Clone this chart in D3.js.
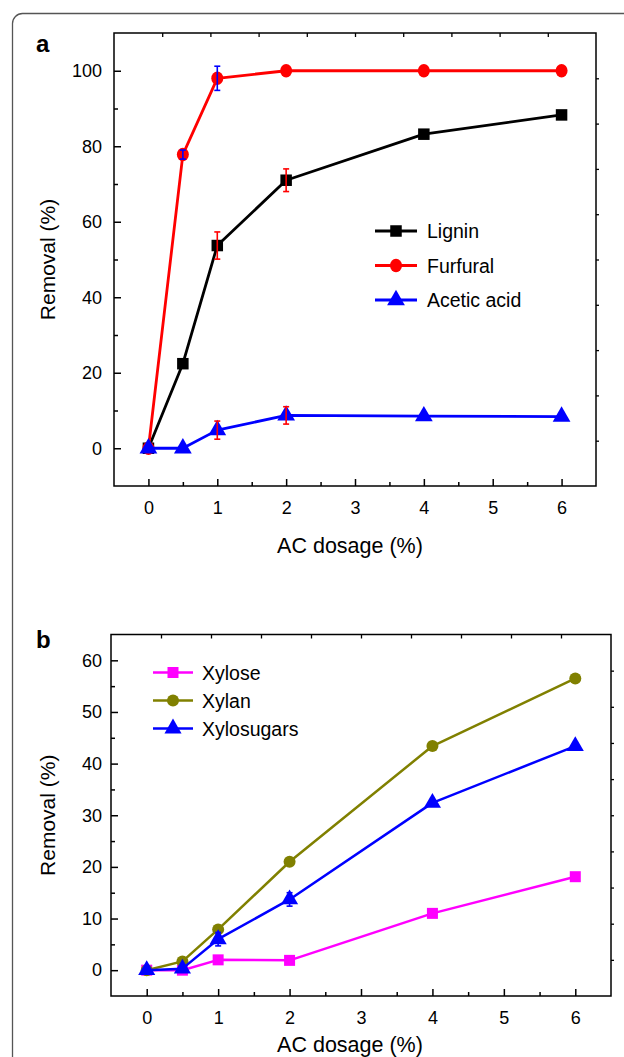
<!DOCTYPE html>
<html>
<head>
<meta charset="utf-8">
<script src="https://cdn.jsdelivr.net/npm/d3@7"></script>
<style>
  html, body { margin: 0; padding: 0; background: #fff; }
  svg { display: block; font-family: "Liberation Sans", Arial, sans-serif; }
</style>
</head>
<body>
<svg id="chart" width="624" height="1057"></svg>
<script>
// ---------- data ----------
const dosage = [0, 0.5, 1, 2, 4, 6];
const xTickLabels = [0, 1, 2, 3, 4, 5, 6];

// panel a
const lignin = [0, 22.4, 53.7, 71.0, 83.2, 88.3];
const ligninErr = [0, 0, 3.6, 3.0, 0, 0];
const furfural = [0, 77.8, 98.0, 100, 100, 100];
const furfuralErr = [0, 1.2, 3.2, 0, 0, 0];
const aceticAcid = [0, 0, 4.8, 8.7, 8.5, 8.4];
const aceticAcidErr = [0, 0, 2.4, 2.3, 0, 0];
const yTicksA = [0, 20, 40, 60, 80, 100];

// panel b
const xylose = [0, 0, 2.0, 1.9, 11.0, 18.1];
const xylan = [0, 1.7, 7.9, 21.0, 43.4, 56.5];
const xylosugars = [0, 0.3, 6.0, 13.7, 32.4, 43.4];
const xylosugarsErr = [0, 0, 1.3, 1.3, 0, 0];
const yTicksB = [0, 10, 20, 30, 40, 50, 60];

// ---------- drawing ----------
const svg = d3.select("#chart");
const FONT = "'Liberation Sans', Arial, sans-serif";

// outer rounded frame
svg.append("rect")
  .attr("x", 12.5).attr("y", 13.5)
  .attr("width", 700).attr("height", 1100)
  .attr("rx", 10).attr("ry", 10)
  .attr("fill", "none").attr("stroke", "#555").attr("stroke-width", 1.3);

function drawMarker(sel, s, cx, cy) {
  if (s.shape === "square") {
    sel.append("rect").attr("x", cx - s.size / 2).attr("y", cy - s.size / 2)
      .attr("width", s.size).attr("height", s.size).attr("fill", s.color);
  } else if (s.shape === "circle") {
    sel.append("ellipse").attr("cx", cx).attr("cy", cy)
      .attr("rx", s.size / 2).attr("ry", s.size / 2 * (s.stretch || 1)).attr("fill", s.color);
  } else {
    sel.append("path").attr("transform", `translate(${cx},${cy})`)
      .attr("d", d3.symbol().type(d3.symbolTriangle).size(s.size * s.size * 0.75)())
      .attr("fill", s.color);
  }
}

function panel(cfg) {
  const g = svg.append("g");
  const x = d3.scaleLinear().domain([-0.5, 6.5]).range([cfg.left, cfg.right]);
  const y = d3.scaleLinear().domain(cfg.yDomain).range([cfg.bottom, cfg.top]);

  // series
  cfg.series.forEach(s => {
    const pts = dosage.map((d, i) => ({ x: d, y: s.values[i] }));
    g.append("path")
      .datum(pts)
      .attr("fill", "none")
      .attr("stroke", s.color)
      .attr("stroke-width", cfg.lineWidth)
      .attr("stroke-linejoin", "round")
      .attr("d", d3.line().x(p => x(p.x)).y(p => y(p.y)));
    const mk = g.append("g");
    pts.forEach(p => drawMarker(mk, s, x(p.x), y(p.y)));
  });
  // error bars on top
  cfg.series.forEach(s => {
    if (!s.err) return;
    dosage.forEach((d, i) => {
      const e = s.err[i];
      if (!e) return;
      const cx = x(d), y1 = y(s.values[i] + e), y2 = y(s.values[i] - e);
      const eg = g.append("g").attr("stroke", s.errColor).attr("stroke-width", 1.6);
      eg.append("line").attr("x1", cx).attr("x2", cx).attr("y1", y1).attr("y2", y2);
      eg.append("line").attr("x1", cx - 3).attr("x2", cx + 3).attr("y1", y1).attr("y2", y1);
      eg.append("line").attr("x1", cx - 3).attr("x2", cx + 3).attr("y1", y2).attr("y2", y2);
    });
  });

  // frame
  g.append("rect")
    .attr("x", cfg.left).attr("y", cfg.top)
    .attr("width", cfg.right - cfg.left).attr("height", cfg.bottom - cfg.top)
    .attr("fill", "none").attr("stroke", "#000").attr("stroke-width", 1.5);

  // bottom axis (inward ticks)
  const xMinor = [0.5, 1.5, 2.5, 3.5, 4.5, 5.5];
  const bx = g.append("g").attr("transform", `translate(0,${cfg.bottom})`)
    .call(d3.axisBottom(x).tickValues(xTickLabels).tickSize(-7).tickPadding(15).tickFormat(d3.format("d")));
  bx.select(".domain").remove();
  bx.selectAll("line").attr("stroke-width", 1.5);
  bx.selectAll("text").attr("font-size", 18).attr("font-family", FONT).attr("fill", "#000");
  const bxm = g.append("g").attr("transform", `translate(0,${cfg.bottom})`)
    .call(d3.axisBottom(x).tickValues(xMinor).tickSize(-4).tickFormat(""));
  bxm.select(".domain").remove();
  bxm.selectAll("line").attr("stroke-width", 1.5);

  // left axis (inward ticks)
  const ly = g.append("g").attr("transform", `translate(${cfg.left},0)`)
    .call(d3.axisLeft(y).tickValues(cfg.yTicks).tickSize(-7).tickPadding(cfg.yPad).tickFormat(d3.format("d")));
  ly.select(".domain").remove();
  ly.selectAll("line").attr("stroke-width", 1.5);
  ly.selectAll("text").attr("font-size", 18).attr("font-family", FONT).attr("fill", "#000");
  const lym = g.append("g").attr("transform", `translate(${cfg.left},0)`)
    .call(d3.axisLeft(y).tickValues(cfg.yMinor).tickSize(-4).tickFormat(""));
  lym.select(".domain").remove();
  lym.selectAll("line").attr("stroke-width", 1.5);

  // top ticks (10 equal divisions, inward) and right ticks (outward)
  const topS = d3.scaleLinear().domain([0, 10]).range([cfg.left, cfg.right]);
  const tAx = g.append("g").attr("transform", `translate(0,${cfg.top})`)
    .call(d3.axisTop(topS).tickValues(d3.range(1, 10)).tickSize(-4).tickFormat(""));
  tAx.select(".domain").remove();
  tAx.selectAll("line").attr("stroke-width", 1.3);
  const rightS = d3.scaleLinear().domain([0, 10]).range([cfg.bottom, cfg.top]);
  const rAx = g.append("g").attr("transform", `translate(${cfg.right},0)`)
    .call(d3.axisRight(rightS).tickValues(d3.range(1, 10)).tickSize(3).tickFormat(""));
  rAx.select(".domain").remove();
  rAx.selectAll("line").attr("stroke-width", 1.3);

  // axis titles
  g.append("text")
    .attr("x", 350).attr("y", cfg.bottom + cfg.xTitleOffset)
    .attr("text-anchor", "middle").attr("font-size", 21.5).attr("font-family", FONT).attr("fill", "#000")
    .text("AC dosage (%)");
  g.append("text")
    .attr("transform", `translate(55,${(cfg.top + cfg.bottom) / 2}) rotate(-90)`)
    .attr("text-anchor", "middle").attr("font-size", 21).attr("font-family", FONT).attr("fill", "#000")
    .text("Removal (%)");

  // panel letter
  g.append("text")
    .attr("x", 36).attr("y", cfg.letterY)
    .attr("font-size", 24).attr("font-weight", "bold").attr("font-family", FONT).attr("fill", "#000")
    .text(cfg.letter);

  // legend
  const lg = g.append("g");
  cfg.series.forEach((s, i) => {
    const ly0 = cfg.legend.y + i * cfg.legend.dy;
    lg.append("line")
      .attr("x1", cfg.legend.x1).attr("x2", cfg.legend.x2)
      .attr("y1", ly0).attr("y2", ly0)
      .attr("stroke", s.color).attr("stroke-width", cfg.lineWidth);
    drawMarker(lg, s, (cfg.legend.x1 + cfg.legend.x2) / 2, ly0);
    lg.append("text")
      .attr("x", cfg.legend.tx).attr("y", ly0 + 7)
      .attr("font-size", 19.5).attr("font-family", FONT).attr("fill", "#000")
      .text(s.name);
  });
}

panel({
  letter: "a", letterY: 52,
  left: 114, right: 596, top: 33, bottom: 486,
  yDomain: [-10, 110], yTicks: yTicksA, yMinor: [10, 30, 50, 70, 90],
  yPad: 12, xTitleOffset: 67, lineWidth: 2.8,
  legend: { x1: 375, x2: 417, tx: 427, y: 231, dy: 34.5 },
  series: [
    { name: "Lignin", values: lignin, err: ligninErr, errColor: "#ff0000", color: "#000000", shape: "square", size: 11.5 },
    { name: "Furfural", values: furfural, err: furfuralErr, errColor: "#0000ff", color: "#ff0000", shape: "circle", size: 12, stretch: 1.12 },
    { name: "Acetic acid", values: aceticAcid, err: aceticAcidErr, errColor: "#ff0000", color: "#0000ff", shape: "triangle", size: 13.5 }
  ]
});

panel({
  letter: "b", letterY: 648,
  left: 111, right: 611, top: 634.5, bottom: 996,
  yDomain: [-5, 65], yTicks: yTicksB, yMinor: [5, 15, 25, 35, 45, 55],
  yPad: 9, xTitleOffset: 56, lineWidth: 2.5,
  legend: { x1: 153, x2: 193, tx: 202, y: 672.5, dy: 28 },
  series: [
    { name: "Xylose", values: xylose, color: "#ff00ff", shape: "square", size: 11 },
    { name: "Xylan", values: xylan, color: "#808000", shape: "circle", size: 12 },
    { name: "Xylosugars", values: xylosugars, err: xylosugarsErr, errColor: "#0000ff", color: "#0000ff", shape: "triangle", size: 13 }
  ]
});
</script>
</body>
</html>
